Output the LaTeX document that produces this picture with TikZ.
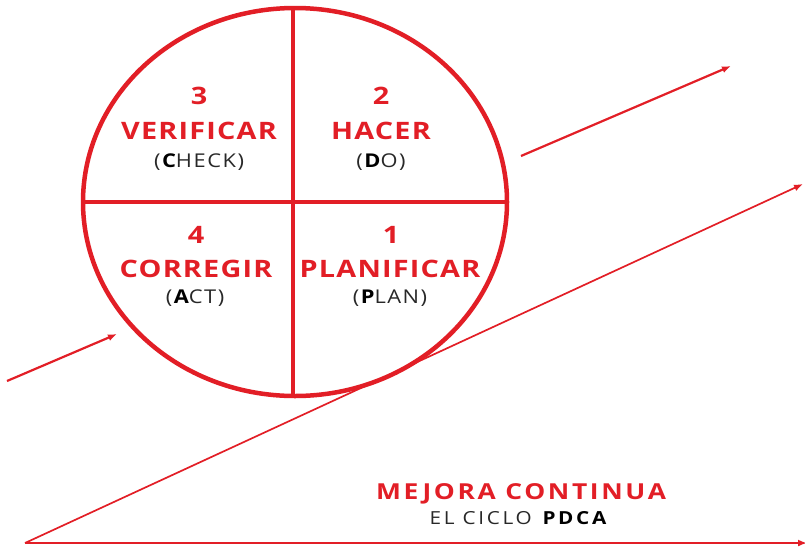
\documentclass[tikz,border=0pt]{standalone}
\usepackage{fontspec}
\setmainfont{Open Sans}
\usetikzlibrary{arrows.meta}
\definecolor{rojo}{RGB}{226,30,38}
\definecolor{gris}{RGB}{40,40,40}
\newcommand{\titulo}{\fontsize{24}{24}\selectfont\bfseries\addfontfeatures{FakeStretch=1.2,LetterSpace=5}}
\newcommand{\subtit}{\fontsize{19}{19}\selectfont\addfontfeatures{FakeStretch=1.15,LetterSpace=8}}
\begin{document}
\begin{tikzpicture}[x=1pt,y=-1pt,>={Latex[length=9pt,width=7pt]},line join=round]
	\useasboundingbox (0,0) rectangle (805,547);
	\tikzset{nro/.style={anchor=base,text=rojo,font=\titulo},
		pal/.style={anchor=base,text=rojo,font=\titulo},
		par/.style={anchor=base,text=gris,font=\subtit}}
	%Triangulo
	\path (25,543) coordinate (V) (807,543) coordinate (W) (803,184) coordinate (U);
	\draw[rojo,line width=2.6pt,->] (V)--(W);
	\draw[rojo,line width=1.7pt,->] (V)--(U);
	%Flechas
	\path (7,381) coordinate (F1) (117,334) coordinate (F2)
	(521,156) coordinate (F3) (731,66) coordinate (F4);
	\draw[rojo,line width=2.2pt,->] (F1)--(F2);
	\draw[rojo,line width=2.2pt,->] (F3)--(F4);
	%Circulo
	\path (295,202) coordinate (O);
	\fill[white] (O) ellipse [x radius=212,y radius=194];
	\draw[rojo,line width=4.5pt] (O) ellipse [x radius=212,y radius=194];
	\draw[rojo,line width=4.5pt] (293,8)--(293,396) (83,202)--(507,202);
	%Textos
	\node[nro] (n3) at (199,104) {3};
	\node[pal] (p3) at (199,139) {VERIFICAR};
	\node[par] (e3) at (199,167) {(\textbf{\color{black}C}HECK)};
	\node[nro] (n2) at (381,104) {2};
	\node[pal] (p2) at (381,139) {HACER};
	\node[par] (e2) at (381,167) {(\textbf{\color{black}D}O)};
	\node[nro] (n4) at (196,243) {4};
	\node[pal] (p4) at (196,277) {CORREGIR};
	\node[par] (e4) at (195,303) {(\textbf{\color{black}A}CT)};
	\node[nro] (n1) at (391,243) {1};
	\node[pal] (p1) at (390,277) {PLANIFICAR};
	\node[par] (e1) at (390,303) {(\textbf{\color{black}P}LAN)};
	\node[anchor=base,text=rojo,font=\fontsize{22}{22}\selectfont\bfseries\addfontfeatures{FakeStretch=1.2,LetterSpace=12}] (mc) at (521,499) {MEJORA CONTINUA};
	\node[anchor=base,text=gris,font=\fontsize{18}{18}\selectfont\addfontfeatures{FakeStretch=1.15,LetterSpace=15}] (ec) at (518,524) {EL CICLO \textbf{\color{black}PDCA}};
\end{tikzpicture}
\end{document}
